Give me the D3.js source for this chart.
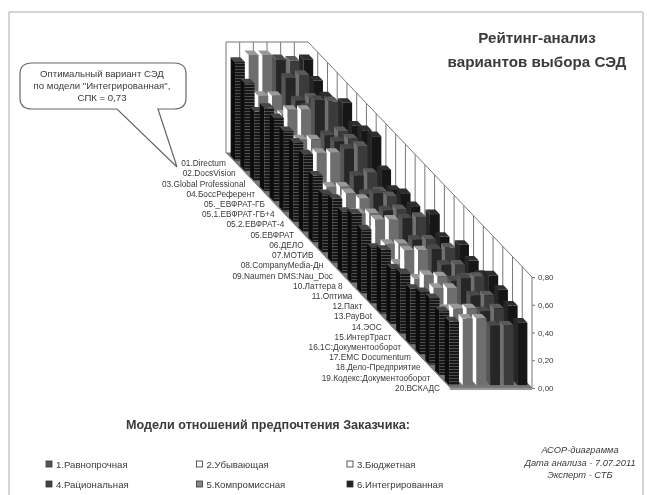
<!DOCTYPE html>
<html>
<head>
<meta charset="utf-8">
<script src="https://cdn.jsdelivr.net/npm/d3@7"></script>
<style>
html, body { margin:0; padding:0; background:#fff; }
text { font-family:"Liberation Sans", Arial, sans-serif; fill:#3a3a3a; }
</style>
</head>
<body>
<div id="graph"></div>
<script>
var categories = ["01.Directum","02.DocsVision","03.Global Professional","04.БоссРеферент","05._ЕВФРАТ-ГБ","05.1.ЕВФРАТ-ГБ+4","05.2.ЕВФРАТ-4","05.ЕВФРАТ","06.ДЕЛО","07.МОТИВ","08.CompanyMedia-Дн","09.Naumen DMS:Nau_Doc","10.Латтера 8","11.Оптима","12.Пакт","13.РауBot","14.ЭОС","15.ИнтерТраст","16.1С:Документооборот","17.EMC Documentum","18.Дело-Предприятие","19.Кодекс:Документооборот","20.ВСКАДС"];
var seriesNames = ["1.Равнопрочная","2.Убывающая","3.Бюджетная","4.Рациональная","5.Компромиссная","6.Интегрированная"];
var s1 = [.71,.63,.50,.60,.60,.58,.57,.56,.48,.42,.46,.44,.50,.46,.40,.46,.40,.44,.40,.45,.48,.46,.46];
var s2 = [.76,.54,.48,.50,.66,.52,.48,.57,.40,.38,.50,.43,.38,.53,.43,.36,.53,.40,.50,.48,.40,.48,.48];
var s3 = [.76,.54,.48,.50,.66,.52,.47,.57,.40,.37,.46,.43,.38,.53,.43,.35,.53,.40,.49,.48,.40,.48,.48];
var s4 = [.73,.67,.58,.60,.73,.55,.58,.60,.48,.42,.50,.45,.42,.54,.46,.42,.54,.50,.46,.55,.50,.46,.43];
var s5 = [.72,.69,.60,.60,.72,.58,.60,.62,.50,.44,.48,.46,.40,.55,.46,.40,.55,.50,.48,.56,.50,.48,.43];
var s6 = [.73,.65,.61,.60,.71,.62,.66,.69,.52,.45,.50,.48,.42,.57,.48,.42,.57,.53,.50,.57,.54,.50,.45];
var allSeries = [s1, s2, s3, s4, s5, s6];
var valueTicks = [0, .2, .4, .6, .8];
var noteLines = ["АСОР-диаграмма","Дата анализа - 7.07.2011","Эксперт - СТБ"];
var calloutLines = ["Оптимальный вариант СЭД","по модели \"Интегрированная\",","СПК = 0,73"];

// colours: front, side, top
var colors = [
    ["url(#hatch)", "#111", "#444"],
    ["#6e6e6e", "#fff", "#999"],
    ["#6e6e6e", "#fff", "#999"],
    ["#262626", "#555", "#4a4a4a"],
    ["#3a3a3a", "#707070", "#5a5a5a"],
    ["#121212", "#262626", "#2e2e2e"]
];
var swatch = ["#555", "#fff", "#fff", "#444", "#888", "#222"];

var svg = d3.select("#graph").append("svg")
    .attr("width", 647)
    .attr("height", 495)
    .style("display", "block");

var defs = svg.append("defs");
defs.append("filter").attr("id", "soft")
    .attr("x", 0).attr("y", 0).attr("width", 1).attr("height", 1)
    .attr("filterUnits", "objectBoundingBox")
    .append("feGaussianBlur").attr("stdDeviation", 0.55);
var hatch = defs.append("pattern").attr("id", "hatch")
    .attr("patternUnits", "userSpaceOnUse").attr("width", 4).attr("height", 3);
hatch.append("rect").attr("width", 4).attr("height", 3).attr("fill", "#191919");
hatch.append("rect").attr("width", 4).attr("height", 1).attr("fill", "#4d4d4d");

var g = svg.append("g").attr("filter", "url(#soft)");
g.append("rect").attr("width", 647).attr("height", 495).attr("fill", "#fff");

// page frame
g.append("path").attr("d", "M9,495V12H643V495").attr("fill", "none").attr("stroke", "#aaa").attr("stroke-width", 1);

// pseudo 3d projection built on the scales
var originX = 226, originY = 153;
var x = d3.scaleBand().domain(d3.range(6)).range([0, 82]).paddingInner(0.28).paddingOuter(0.14);
var depth = d3.scaleBand().domain(d3.range(categories.length)).range([0, 1]).paddingInner(0.55).paddingOuter(0.28);
var y = d3.scaleLinear().domain([0, 0.8]).range([0, 111]);
var depthX = 224, depthY = 235;

function project(px, pz, v) {
    return [originX + px + pz * depthX, originY + pz * depthY - y(v)];
}
function poly(points) {
    return "M" + points.map(function(p) { return p.join(","); }).join("L") + "Z";
}

// floor
g.append("path")
    .attr("d", poly([project(0,0,0), project(82,0,0), project(82,1,0), project(0,1,0)]))
    .attr("fill", "#777");
g.append("path")
    .attr("d", poly([project(0,1,0), project(82,1,0), [originX+82+depthX, originY+depthY+2], [originX+depthX, originY+depthY+2]]))
    .attr("fill", "#999");

// walls
var wall = g.append("g").attr("fill", "none").attr("stroke", "#777").attr("stroke-width", 1);
wall.append("path").attr("d", poly([project(0,0,0.8), project(82,0,0.8), project(82,1,0.8), project(82,1,0), project(82,0,0), project(0,0,0)]));
d3.range(1, 6).forEach(function(i) {
    var px = 82 * i / 6;
    wall.append("line").attr("x1", project(px,0,0)[0]).attr("y1", project(px,0,0)[1]).attr("x2", project(px,0,0.8)[0]).attr("y2", project(px,0,0.8)[1]);
});
d3.range(1, categories.length).forEach(function(i) {
    var pz = i / categories.length;
    wall.append("line").attr("x1", project(82,pz,0)[0]).attr("y1", project(82,pz,0)[1]).attr("x2", project(82,pz,0.8)[0]).attr("y2", project(82,pz,0.8)[1]);
});

// bars, back row first and right series first
var bars = g.append("g");
categories.forEach(function(c, ci) {
    for (var si = 5; si >= 0; si--) {
        var v = allSeries[si][ci];
        var l = x(si), r = l + x.bandwidth();
        var f = depth(ci) + depth.bandwidth(), b = depth(ci);
        var col = colors[si];
        bars.append("path").attr("d", poly([project(l,b,0), project(l,f,0), project(l,f,v), project(l,b,v)])).attr("fill", col[1]);
        bars.append("path").attr("d", poly([project(l,b,v), project(r,b,v), project(r,f,v), project(l,f,v)])).attr("fill", col[2]);
        bars.append("path").attr("d", poly([project(l,f,0), project(r,f,0), project(r,f,v), project(l,f,v)])).attr("fill", col[0]);
    }
});

// category labels along the left floor edge
g.append("g").selectAll("text")
    .data(categories)
    .enter().append("text")
    .attr("x", function(d, i) { return project(0, depth(i) + depth.bandwidth() / 2, 0)[0] - 5; })
    .attr("y", function(d, i) { return project(0, depth(i) + depth.bandwidth() / 2, 0)[1] + 8; })
    .attr("text-anchor", "end")
    .style("font-size", "8.3px")
    .text(function(d) { return d; });

// value axis at the front right corner
var yAxisScale = d3.scaleLinear().domain([0, 0.8]).range([originY + depthY, originY + depthY - 111]);
var yAxis = d3.axisRight(yAxisScale)
    .tickValues(valueTicks)
    .tickSize(3)
    .tickPadding(3)
    .tickFormat(function(d) { return d3.format(".2f")(d).replace(".", ","); });
g.append("g")
    .attr("transform", "translate(" + (originX + 82 + depthX) + ",0)")
    .call(yAxis)
    .call(function(a) { a.select(".domain").remove(); })
    .call(function(a) { a.selectAll("line").attr("stroke", "#777"); })
    .selectAll("text")
    .style("font-size", "8px")
    .style("font-family", "\"Liberation Sans\", Arial, sans-serif");

// titles
g.append("text").attr("x", 537).attr("y", 43).attr("text-anchor", "middle")
    .style("font-size", "15.2px").style("font-weight", "bold").text("Рейтинг-анализ");
g.append("text").attr("x", 537).attr("y", 67).attr("text-anchor", "middle")
    .style("font-size", "15.2px").style("font-weight", "bold").text("вариантов выбора СЭД");
g.append("text").attr("x", 268).attr("y", 429).attr("text-anchor", "middle")
    .style("font-size", "12.6px").style("font-weight", "bold").text("Модели отношений предпочтения Заказчика:");

// callout
g.append("path")
    .attr("d", "M32,63H174Q186,63 186,74V98Q186,109 174,109H158L177,167L117,109H32Q20,109 20,98V74Q20,63 32,63Z")
    .attr("fill", "#fff").attr("stroke", "#666").attr("stroke-width", 1.2);
g.append("g").selectAll("text")
    .data(calloutLines)
    .enter().append("text")
    .attr("x", 102)
    .attr("y", function(d, i) { return 77 + i * 12; })
    .attr("text-anchor", "middle")
    .style("font-size", "9.6px")
    .text(function(d) { return d; });

// legend
var legendX = d3.scalePoint().domain([0, 1, 2]).range([46, 347]);
var legendY = d3.scalePoint().domain([0, 1]).range([465, 485]);
var legend = g.append("g").selectAll("g")
    .data(seriesNames)
    .enter().append("g")
    .attr("transform", function(d, i) { return "translate(" + legendX(i % 3) + "," + legendY(Math.floor(i / 3)) + ")"; });
legend.append("rect").attr("y", -4).attr("width", 6).attr("height", 6)
    .attr("fill", function(d, i) { return swatch[i]; })
    .attr("stroke", "#333").attr("stroke-width", 0.8);
legend.append("text").attr("x", 10).attr("y", 3)
    .style("font-size", "9.6px")
    .text(function(d) { return d; });

// note
g.append("g").selectAll("text")
    .data(noteLines)
    .enter().append("text")
    .attr("x", 580)
    .attr("y", function(d, i) { return 453 + i * 12.5; })
    .attr("text-anchor", "middle")
    .style("font-size", "9.3px").style("font-style", "italic")
    .text(function(d) { return d; });
</script>
</body>
</html>
